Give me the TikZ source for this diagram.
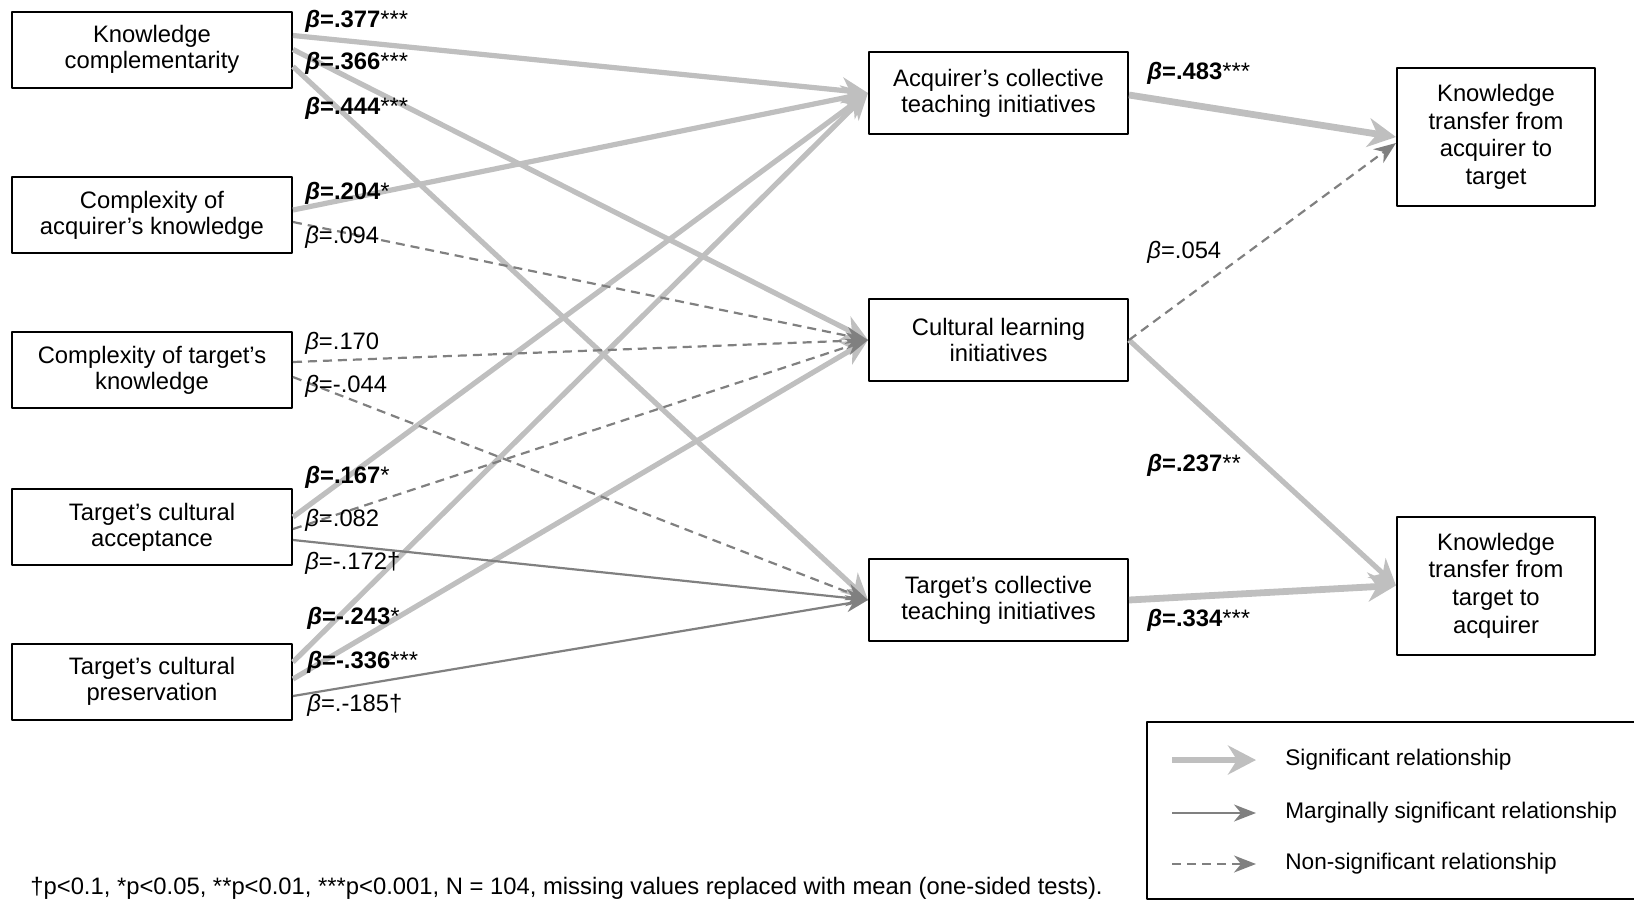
\documentclass[tikz,border=0pt]{standalone}
\usepackage{fontspec}
\setmainfont{Liberation Sans}
\usetikzlibrary{arrows.meta}
\definecolor{sigcol}{HTML}{BFBFBF}
\definecolor{nscol}{HTML}{808080}
\newcommand{\bsig}[2]{\textbf{\textit{β}=#1}#2}
\newcommand{\bns}[1]{\textit{β}=#1}
\begin{document}
\begin{tikzpicture}[x=0.5pt,y=-0.5pt,line join=round,font=\fontsize{11.9}{13}\selectfont,
box/.style={draw,line width=1pt,fill=white,align=center,inner sep=0pt},
lbox/.style={box,minimum width=140pt,minimum height=38pt},
mbox/.style={box,minimum width=129.5pt,minimum height=41pt},
rbox/.style={box,minimum width=99pt,minimum height=69pt,font=\fontsize{11.9}{13.8}\selectfont},
lab/.style={anchor=west,inner sep=0pt},
sig/.style={draw=sigcol,line width=2.6pt,-{Stealth[length=13pt,width=13pt,inset=4pt]}},
sigw/.style={draw=sigcol,line width=3.4pt,-{Stealth[length=14pt,width=14.5pt,inset=4.5pt]}},
mar/.style={draw=nscol,line width=1.1pt,-{Stealth[length=11pt,width=8.5pt,inset=3.5pt]}},
ns/.style={mar,dash pattern=on 4.5pt off 3pt}]
\useasboundingbox (0,0) rectangle (1634,901);
% boxes
\node[lbox] (kc) at (152,49.5) {Knowledge\\complementarity};
\node[lbox] (cak) at (152,215) {Complexity of\\acquirer’s knowledge};
\node[lbox] (ctk) at (152,370) {Complexity of target’s\\knowledge};
\node[lbox] (tca) at (152,527) {Target’s cultural\\acceptance};
\node[lbox] (tcp) at (152,681.5) {Target’s cultural\\preservation};
\node[mbox] (acti) at (998.5,93) {Acquirer’s collective\\teaching initiatives};
\node[mbox] (cli) at (998.5,340) {Cultural learning\\initiatives};
\node[mbox] (tcti) at (998.5,600) {Target’s collective\\teaching initiatives};
\node[rbox] (ktat) at (1496,137) {Knowledge\\transfer from\\acquirer to\\target};
\node[rbox] (ktta) at (1496,585.5) {Knowledge\\transfer from\\target to\\acquirer};
% paths
\foreach \s/\d/\t in {kc/7/acti,kc/0/cli,kc/-8.5/tcti,cak/2.5/acti,tca/5/acti,tcp/9.75/acti,tcp/1.25/cli}
\draw[sig] ([yshift=\d pt]\s.east) -- (\t.west);
\draw[sigw] ([yshift=-1pt]acti.east) -- (ktat.west);
\draw[sig] (cli.east) -- (ktta.west);
\draw[sigw] (tcti.east) -- (ktta.west);
\foreach \s/\d/\t in {cak/-3.5/cli,ctk/4/cli,ctk/-3.5/tcti,tca/-1/cli}
\draw[ns] ([yshift=\d pt]\s.east) -- (\t.west);
\draw[ns] (cli.east) -- ([yshift=-3pt]ktat.west);
\draw[mar] ([yshift=-6.5pt]tca.east) -- (tcti.west);
\draw[mar] ([yshift=-7.25pt]tcp.east) -- (tcti.west);
% coefficients
\node[lab] (b1) at (305,21) {\bsig{.377}{***}};
\node[lab] (b2) at (305,63) {\bsig{.366}{***}};
\node[lab] (b3) at (305,108) {\bsig{.444}{***}};
\node[lab] (b4) at (305,193) {\bsig{.204}{*}};
\node[lab] (b5) at (305,237) {\bns{.094}};
\node[lab] (b6) at (305,343) {\bns{.170}};
\node[lab] (b7) at (305,386) {\bns{-.044}};
\node[lab] (b8) at (305,477) {\bsig{.167}{*}};
\node[lab] (b9) at (305,520) {\bns{.082}};
\node[lab] (b10) at (305,563) {\bns{-.172†}};
\node[lab] (b11) at (307,618) {\bsig{-.243}{*}};
\node[lab] (b12) at (307,662) {\bsig{-.336}{***}};
\node[lab] (b13) at (307,705) {\bns{.-185†}};
\node[lab] (b14) at (1147,73) {\bsig{.483}{***}};
\node[lab] (b15) at (1147,252) {\bns{.054}};
\node[lab] (b16) at (1147,465) {\bsig{.237}{**}};
\node[lab] (b17) at (1147,620) {\bsig{.334}{***}};
% legend, cut off at the right edge
\node[draw,line width=1pt,minimum width=246.5pt,minimum height=88.5pt,inner sep=0pt] (legend) at (1393.5,810.5) {};
\foreach \y/\st/\t in {760/sigw/Significant relationship,813/mar/Marginally significant relationship,864/ns/Non-significant relationship}{
\coordinate (l\y a) at (1172,\y);
\coordinate (l\y b) at (1256,\y);
\draw[\st] (l\y a) -- (l\y b);
\node[lab,font=\fontsize{11.3}{13}\selectfont] (t\y) at (1285,\y) {\t};
}
\node[lab] (note) at (30,888) {†p<0.1, *p<0.05, **p<0.01, ***p<0.001, N = 104, missing values replaced with mean (one-sided tests).};
\end{tikzpicture}
\end{document}
